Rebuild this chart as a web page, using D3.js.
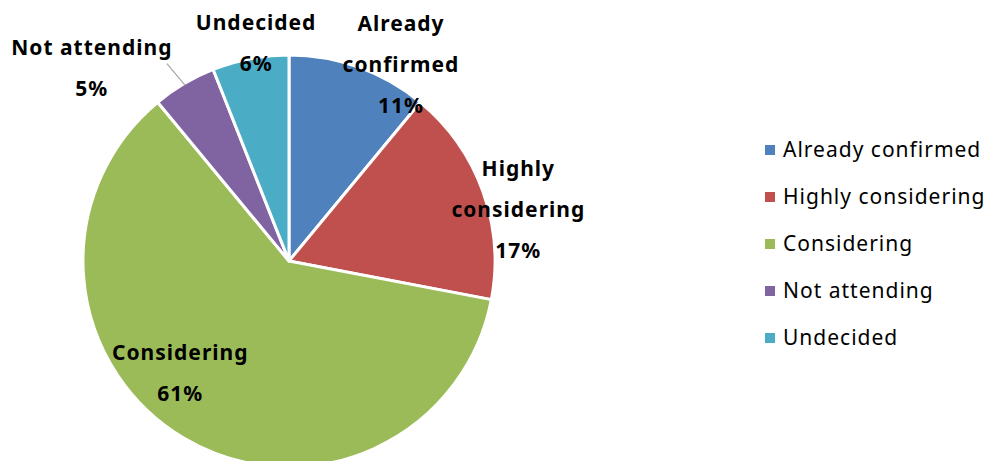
<!DOCTYPE html>
<meta charset="utf-8">
<style>
    body { margin: 0; background: #fff; }
    svg { display: block; }
    .lbl { font: bold 21px "Noto Sans", sans-serif; letter-spacing: 1px; fill: #000; text-anchor: middle; }
    .legend text { font: 21px "Noto Sans", sans-serif; letter-spacing: 1px; fill: #000; }
</style>
<script src="https://d3js.org/d3.v7.min.js"></script>
<svg width="991" height="461"></svg>
<script>
    // data
    let categories = ["Already confirmed", "Highly considering", "Considering", "Not attending", "Undecided"];
    let labelLines = [["Already", "confirmed"], ["Highly", "considering"], ["Considering"], ["Not attending"], ["Undecided"]];
    let values = [11, 17, 61, 5, 6];
    let colors = ["#4f81bd", "#c0504d", "#9bbb59", "#8064a2", "#4bacc6"];

    // label placement (angle in degrees clockwise from top, radius from centre)
    let labelAngle = [29.7, 77.4, 224.2, 314.4, 351.4];
    let labelRadius = [226, 235, 156, 276, 220];

    let svg = d3.select("svg");
    let cx = 289, cy = 261, r = 206;
    let lineH = 41;

    let pie = d3.pie().sort(null).value(function(d) { return d; });
    let arc = d3.arc().innerRadius(0).outerRadius(r);
    let arcs = pie(values);

    let g = svg.append("g").attr("transform", "translate(" + cx + "," + cy + ")");

    g.selectAll("path")
        .data(arcs)
        .enter().append("path")
        .attr("d", arc)
        .attr("fill", function(d, i) { return colors[i]; })
        .attr("stroke", "#fff")
        .attr("stroke-width", 3)
        .attr("stroke-linejoin", "round");

    // leader line for the small "Not attending" slice
    let na = arcs[3];
    let mid = (na.startAngle + na.endAngle) / 2;
    g.append("line")
        .attr("x1", Math.sin(mid) * (r - 2)).attr("y1", -Math.cos(mid) * (r - 2))
        .attr("x2", Math.sin(mid - 0.02) * 232).attr("y2", -Math.cos(mid - 0.02) * 232)
        .attr("stroke", "#a6a6a6").attr("stroke-width", 1.2);

    arcs.forEach(function(d, i) {
        let a = labelAngle[i] * Math.PI / 180;
        let x = Math.sin(a) * labelRadius[i];
        let y = -Math.cos(a) * labelRadius[i];
        let lines = labelLines[i].concat([Math.round(values[i]) + "%"]);
        let top = y - (lines.length - 1) * lineH / 2;
        let t = g.append("text").attr("class", "lbl");
        lines.forEach(function(s, j) {
            t.append("tspan")
                .attr("x", x)
                .attr("y", top + j * lineH)
                .attr("dy", "0.35em")
                .text(s);
        });
    });

    // legend
    let legend = svg.append("g").attr("class", "legend").attr("transform", "translate(765,150)");
    let item = legend.selectAll("g")
        .data(categories)
        .enter().append("g")
        .attr("transform", function(d, i) { return "translate(0," + i * 47 + ")"; });
    item.append("rect")
        .attr("x", 0).attr("y", -5)
        .attr("width", 10).attr("height", 10)
        .attr("fill", function(d, i) { return colors[i]; });
    item.append("text")
        .attr("x", 18)
        .attr("dy", "0.35em")
        .text(function(d) { return d; });
</script>
